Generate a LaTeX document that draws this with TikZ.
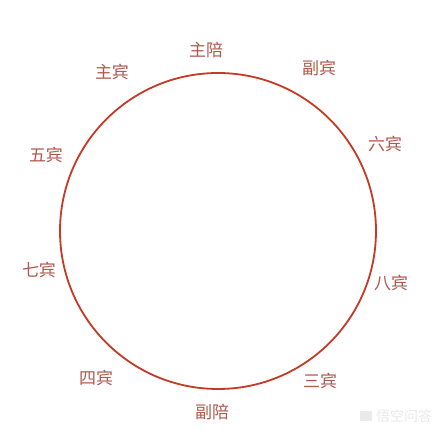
\documentclass[tikz,border=0pt]{standalone}
\usepackage{fontspec}
\newfontfamily\cjk{Noto Sans CJK SC}
\newfontfamily\cjklight{Noto Sans CJK SC Light}
\definecolor{ringred}{RGB}{196,58,38}
\definecolor{labred}{RGB}{178,88,78}
\definecolor{wmgray}{RGB}{234,234,234}
\begin{document}
\begin{tikzpicture}[x=1pt,y=1pt,
  seat/.style={font=\cjk\fontsize{17}{17}\selectfont, text=labred, inner sep=0pt},
  ring/.style={draw=ringred, line width=1.8pt}]
\useasboundingbox (0,0) rectangle (440,431);
\fill[white] (0,0) rectangle (440,431);
\node[ring, circle, minimum size=316pt, inner sep=0pt] (table) at (218,200) {};
\node[seat] (zhupei) at (206,381) {主陪};
\node[seat] (zhubin) at (112,359) {主宾};
\node[seat] (fubin) at (319,363) {副宾};
\node[seat] (wubin) at (46,276) {五宾};
\node[seat] (liubin) at (385,287) {六宾};
\node[seat] (qibin) at (39,161) {七宾};
\node[seat] (babin) at (391,148) {八宾};
\node[seat] (sibin) at (96,53) {四宾};
\node[seat] (sanbin) at (320,50) {三宾};
\node[seat] (fupei) at (212,19) {副陪};
\node[font=\cjk\fontsize{14}{14}\selectfont, text=wmgray, inner sep=0pt] (wm) at (404,15) {悟空问答};
\fill[wmgray] (360,10) rectangle (372,20);
\end{tikzpicture}
\end{document}
